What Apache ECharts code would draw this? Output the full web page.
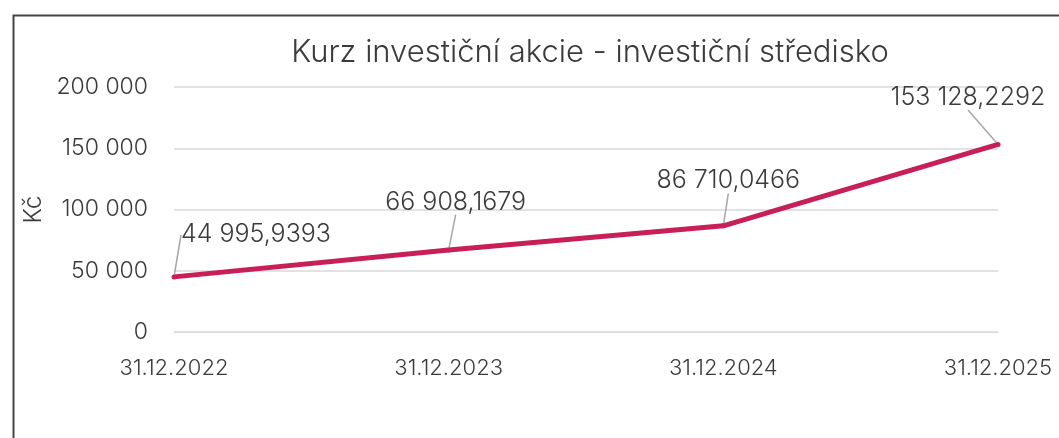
<!DOCTYPE html>
<html>
<head>
<meta charset="utf-8">
<script src="https://cdn.jsdelivr.net/npm/echarts@6/dist/echarts.min.js"></script>
<style>
html, body { margin: 0; padding: 0; background: #fff; }
#chart { width: 1059px; height: 438px; }
</style>
</head>
<body>
<div id="chart"></div>
<script>
// data
var dates = ['31.12.2022', '31.12.2023', '31.12.2024', '31.12.2025'];
var kurz = [44995.9393, 66908.1679, 86710.0466, 153128.2292];

// posuny popisků (dx, dy)
var labelShift = [[82, -22], [7, -28], [5, -25], [-30, -27]];

function fmtCz(v, dec) {
    var s = v.toFixed(dec).split('.');
    var int = s[0].replace(/\B(?=(\d{3})+(?!\d))/g, ' ');
    return dec ? int + ',' + s[1] : int;
}

var chart = echarts.init(document.getElementById('chart'));
var font = 'Inter';
var txt = '#3b3b3b';

chart.setOption({
    animation: false,
    title: {
        text: 'Kurz investiční akcie - investiční středisko',
        left: 585,
        top: 32,
        textAlign: 'center',
        textStyle: {
            fontFamily: font,
            fontSize: 31,
            fontWeight: 300,
            color: txt
        }
    },
    graphic: [
        {
            type: 'rect',
            left: 11,
            top: 13,
            shape: { width: 1100, height: 500 },
            style: { fill: 'none', stroke: '#444', lineWidth: 2 }
        }
    ],
    grid: {
        left: 174,
        right: 61,
        top: 87,
        bottom: 106
    },
    xAxis: {
        type: 'category',
        data: dates,
        boundaryGap: false,
        axisLine: { lineStyle: { color: '#d9d9d9' } },
        axisTick: { show: false },
        axisLabel: {
            margin: 25,
            fontFamily: font,
            fontSize: 22,
            fontWeight: 300,
            color: txt
        }
    },
    yAxis: {
        type: 'value',
        min: 0,
        max: 200000,
        interval: 50000,
        name: 'Kč',
        nameLocation: 'middle',
        nameGap: 128,
        nameRotate: 90,
        nameTextStyle: {
            fontFamily: font,
            fontSize: 24,
            fontWeight: 300,
            color: txt
        },
        axisLabel: {
            margin: 26,
            fontFamily: font,
            fontSize: 23,
            fontWeight: 300,
            color: txt,
            formatter: function (v) { return fmtCz(v, 0); }
        },
        splitLine: { lineStyle: { color: '#d9d9d9', width: 1.5 } }
    },
    series: [
        {
            name: 'Kurz',
            type: 'line',
            data: kurz,
            symbol: 'circle',
            symbolSize: 5,
            itemStyle: { color: '#c81e5a' },
            lineStyle: { color: '#c81e5a', width: 5 },
            label: {
                show: true,
                position: 'top',
                fontFamily: font,
                fontSize: 25,
                fontWeight: 300,
                color: txt,
                formatter: function (p) { return fmtCz(p.value, 4); }
            },
            labelLine: {
                show: true,
                lineStyle: { color: '#a6a6a6', width: 1.5 }
            },
            labelLayout: function (p) {
                var s = labelShift[p.dataIndex];
                return { dx: s[0], dy: s[1] };
            }
        }
    ]
});
</script>
</body>
</html>
